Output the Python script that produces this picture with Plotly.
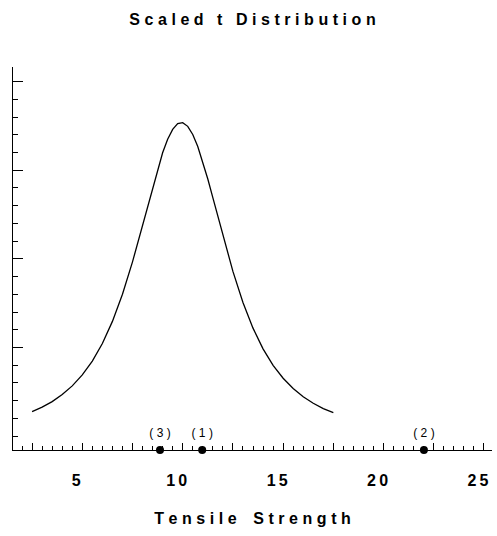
import plotly.graph_objects as go

# ---- data ----
strength = [2.5, 3.0, 3.5, 4.0, 4.5, 5.0, 5.5, 6.0, 6.5, 7.0, 7.5, 8.0, 8.25, 8.5,
            8.75, 9.0, 9.25, 9.5, 9.75, 10.0, 10.25, 10.5, 10.75, 11.0, 11.25, 11.5,
            12.0, 12.5, 13.0, 13.5, 14.0, 14.5, 15.0, 15.5, 16.0, 16.5, 17.0, 17.5]
density = [1.38, 1.63, 1.94, 2.34, 2.83, 3.45, 4.23, 5.22, 6.47, 8.00, 9.83, 11.90,
           12.98, 14.05, 15.07, 15.99, 16.75, 17.31, 17.63, 17.69, 17.48, 17.02,
           16.34, 15.49, 14.51, 13.46, 11.31, 9.29, 7.54, 6.09, 4.92, 3.99, 3.26,
           2.68, 2.22, 1.85, 1.55, 1.32]

obs_values = [10.97, 22.01, 8.87]
obs_labels = ["(1)", "(2)", "(3)"]

x_tick_values = [2.5, 5, 7.5, 10, 12.5, 15, 17.5, 20, 22.5, 25]
x_tick_labels = ["", "5", "", "10", "", "15", "", "20", "", "25"]
y_major_ticks = [5, 10, 15, 20]

TITLE = "Scaled t Distribution"
X_TITLE = "Tensile Strength"

# ---- style / layout ----
FONT = "Liberation Sans, Arial, sans-serif"
GAP = "\u2009\u200a"   # letter spacing for bold titles
SMALL_GAP = "\u2009"
YMIN, YMAX = -0.79, 20.83
XMIN, XMAX = 1.55, 25.4


def spaced(s, gap=GAP):
    return gap.join(s)


fig = go.Figure()

fig.add_trace(go.Scatter(
    x=strength, y=density, mode="lines",
    line=dict(color="black", width=1.3),
    hoverinfo="skip", showlegend=False,
))

# observation dots on the axis
fig.add_trace(go.Scatter(
    x=obs_values, y=[YMIN] * len(obs_values),
    mode="markers",
    marker=dict(color="black", size=8),
    cliponaxis=False, showlegend=False, hoverinfo="skip",
))

# labels above the dots
fig.add_trace(go.Scatter(
    x=obs_values, y=[YMIN] * len(obs_values),
    mode="markers+text",
    marker=dict(color="rgba(0,0,0,0)", size=14),
    text=[spaced(t, "\u2009\u200a") for t in obs_labels],
    textposition="top center",
    textfont=dict(family=FONT, size=12, color="black"),
    cliponaxis=False, showlegend=False, hoverinfo="skip",
))

fig.update_layout(
    width=497, height=536, autosize=False,
    margin=dict(l=13, r=5, t=67, b=86),
    paper_bgcolor="white", plot_bgcolor="white",
    title=dict(
        text=spaced(TITLE), x=0.5, xref="paper", xanchor="center",
        y=1 - 19 / 536, yref="container", yanchor="middle",
        font=dict(family=FONT, size=16, color="black", weight="bold"),
    ),
)

fig.update_xaxes(
    range=[XMIN, XMAX], showgrid=False, zeroline=False,
    showline=True, linecolor="black", linewidth=1.2,
    tickmode="array", tickvals=x_tick_values,
    ticktext=[spaced(t, SMALL_GAP) for t in x_tick_labels],
    ticks="inside", ticklen=7, tickwidth=1, tickcolor="black",
    minor=dict(ticks="inside", ticklen=3.5, tickwidth=1, tickcolor="black",
               dtick=0.5, tick0=0, showgrid=False),
    tickfont=dict(family=FONT, size=16, color="black", weight="bold"),
    ticklabelstandoff=16, ticklabelshift=-6,
    title=dict(text=spaced(X_TITLE).replace(" ", "\u2009 "), standoff=24,
               font=dict(family=FONT, size=16, color="black", weight="bold")),
)

fig.update_yaxes(
    range=[YMIN, YMAX], showgrid=False, zeroline=False,
    showline=True, linecolor="black", linewidth=1.2,
    tickmode="array", tickvals=y_major_ticks, showticklabels=False,
    ticks="inside", ticklen=9.5, tickwidth=1, tickcolor="black",
    minor=dict(ticks="inside", ticklen=4.7, tickwidth=1, tickcolor="black",
               dtick=1, tick0=0, showgrid=False),
)

# remove the browser's default 8px body margin so the figure sits at the page origin
fig.write_html(
    "out.html",
    config={"displayModeBar": False},
    post_script="document.body.style.margin='0px';",
)
